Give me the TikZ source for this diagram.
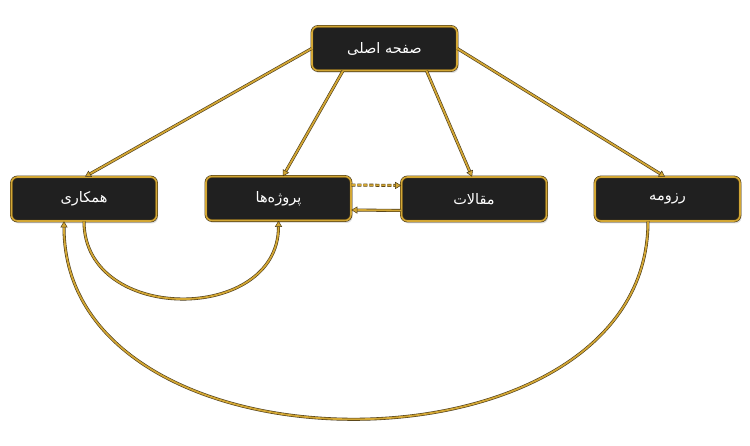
\documentclass[tikz,border=0pt]{standalone}
\usepackage{fontspec}
\newfontfamily\arabicfont[Script=Arabic]{DejaVu Sans}
\TeXXeTstate=1
\usetikzlibrary{arrows.meta,shadows}
\definecolor{gold}{HTML}{D2A634}
\definecolor{boxfill}{HTML}{202020}
\definecolor{edgedark}{HTML}{4A3A18}
\begin{document}
\begin{tikzpicture}[x=1pt,y=-1pt,
  box/.style={rectangle, rounded corners=6pt, minimum width=145pt, minimum height=44pt,
    fill=boxfill, draw=edgedark, double=gold, double distance=1.6pt, line width=0.6pt,
    text=white, font=\arabicfont\fontsize{14.5}{16}\selectfont,
    drop shadow={shadow xshift=1.5pt, shadow yshift=-2.5pt, opacity=0.25}},
  conn/.style={draw=edgedark, double=gold, double distance=1.8pt, line width=0.6pt,
    -{Triangle[length=6pt,width=7pt,fill=gold,color=edgedark,line width=0.5pt]}},
  dashconn/.style={conn, dash pattern=on 4pt off 2pt},
]
\useasboundingbox (0,0) rectangle (750,446);
\node[box] (main) at (384.5,48.5) {\beginR صفحه اصلی\endR};
\node[box] (hk) at (84,199) {\beginR همکاری\endR};
\node[box] (pr) at (278.5,198.5) {\beginR پروژه‌ها\endR};
\node[box] (mq) at (474,199) {\beginR مقالات\endR};
\node[box] (rz) at (667.5,199) {\beginR رزومه\endR};

\draw[conn] (main.west) -- ([xshift=1pt]hk.north);
\draw[conn] ([xshift=-41.5pt]main.south) -- ([xshift=4.5pt]pr.north);
\draw[conn] ([xshift=42pt]main.south) -- ([xshift=-2pt]mq.north);
\draw[conn] (main.east) -- ([xshift=-2.5pt]rz.north);

\draw[dashconn] ([yshift=13.5pt]pr.east) -- ([yshift=13.5pt]mq.west);
\draw[conn] ([yshift=-11.5pt]mq.west) -- ([yshift=-11.5pt]pr.east);

\draw[conn] (hk.south) .. controls +(0,103) and +(0,103) .. (pr.south);
\draw[conn] ([xshift=-19.5pt]rz.south) .. controls +(0,263) and +(0,263) .. ([xshift=-20pt]hk.south);
\end{tikzpicture}
\end{document}
